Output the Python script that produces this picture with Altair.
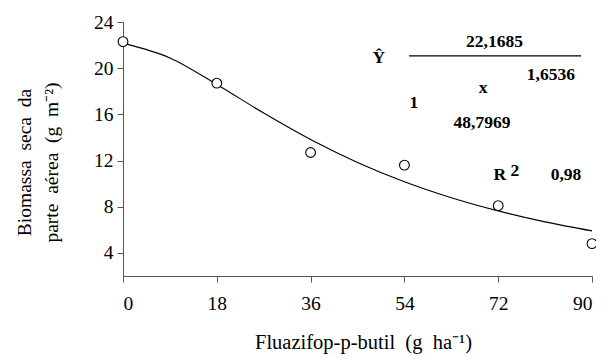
import altair as alt
import pandas as pd

# observed points
dose = [0, 18, 36, 54, 72, 90]
biomass = [22.3, 18.7, 12.7, 11.6, 8.1, 4.8]

# fitted curve
curve_x = [0, 9, 18, 27, 36, 45, 54, 63, 72, 81, 90]
curve_y = [22.17, 20.89, 18.59, 16.11, 13.82, 11.83, 10.16, 8.78, 7.64, 6.69, 5.91]

# equation annotation
ann_text = ["Ŷ", "22,1685", "1,6536", "x", "1", "48,7969", "R", "2", "0,98"]
ann_x = [49.1, 71.3, 82.1, 69.1, 55.8, 68.9, 72.3, 75.2, 85.0]
ann_y = [20.45, 21.83, 18.98, 17.88, 16.55, 14.82, 10.31, 10.66, 10.31]
frac_x = [54.9, 87.9]
frac_y = [21.06, 21.06]

FONT = "Liberation Serif"
NB = "\u00a0\u00a0"

pts = pd.DataFrame({"x": dose, "y": biomass})
crv = pd.DataFrame({"x": curve_x, "y": curve_y})
ann = pd.DataFrame({"t": ann_text, "x": ann_x, "y": ann_y})
frac = pd.DataFrame({"x": [frac_x[0]], "x2": [frac_x[1]], "y": [frac_y[0]]})

xscale = alt.Scale(domain=[0, 90], nice=False, zero=False)
yscale = alt.Scale(domain=[2, 24], nice=False, zero=False)

xaxis = alt.Axis(values=[0, 18, 36, 54, 72, 90],
                 title=f"Fluazifop-p-butil{NB}(g{NB}ha⁻¹)",
                 grid=False, tickSize=6, labelPadding=12, titlePadding=20, titleX=240,
                 titleFontSize=20.5)
yaxis = alt.Axis(values=[4, 8, 12, 16, 20, 24],
                 title=[f"Biomassa{NB}seca{NB}da", f"parte{NB}aérea{NB}(g{NB}m⁻²)"],
                 grid=False, tickSize=6, labelPadding=4, titlePadding=32,
                 titleY=140)

line = alt.Chart(crv).mark_line(color="black", strokeWidth=1.1, interpolate="monotone").encode(
    x=alt.X("x:Q", scale=xscale, axis=xaxis),
    y=alt.Y("y:Q", scale=yscale, axis=yaxis),
)
points = alt.Chart(pts).mark_point(shape="circle", filled=True, fill="white", stroke="black",
                                   strokeWidth=1.1, size=95, opacity=1).encode(
    x=alt.X("x:Q", scale=xscale), y=alt.Y("y:Q", scale=yscale))
texts = alt.Chart(ann).mark_text(font=FONT, fontWeight="bold", fontSize=17.5,
                                 align="center", baseline="alphabetic", color="black").encode(
    x=alt.X("x:Q", scale=xscale), y=alt.Y("y:Q", scale=yscale), text="t:N")
rule = alt.Chart(frac).mark_rule(color="black", strokeWidth=1.2).encode(
    x=alt.X("x:Q", scale=xscale), x2="x2:Q", y=alt.Y("y:Q", scale=yscale))

chart = alt.layer(line, points, texts, rule).properties(
    width=469, height=254,
    padding={"left": 115, "top": 14, "right": 4, "bottom": 86},
    autosize=alt.AutoSizeParams(type="none"),
).configure_view(stroke=None).configure_axis(
    labelFont=FONT, titleFont=FONT, labelFontSize=19.5, titleFontSize=19.5,
    titleFontWeight="normal", labelColor="black", titleColor="black",
    domainColor="#555", tickColor="#555", titleLineHeight=27,
)

chart.save("out.html", embed_options={"renderer": "svg", "actions": False})
